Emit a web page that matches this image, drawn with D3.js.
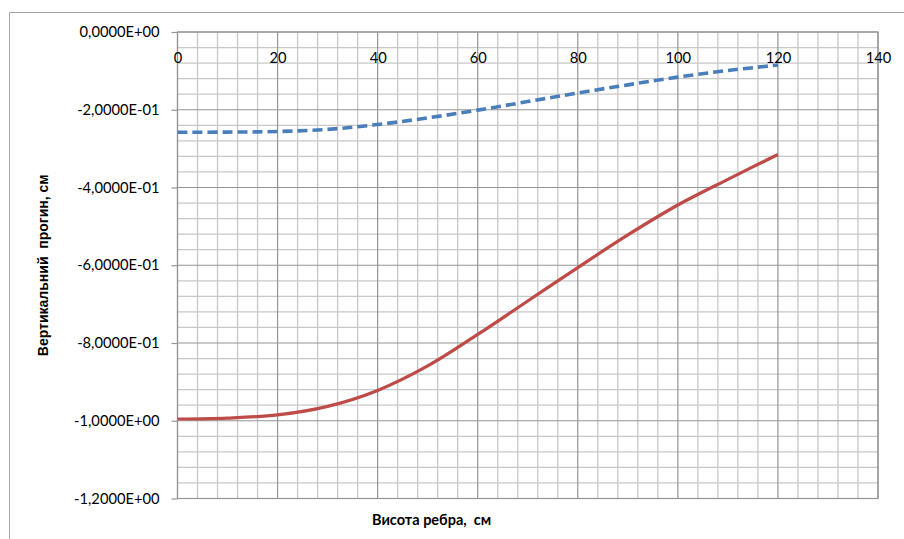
<!DOCTYPE html>
<html><head><meta charset="utf-8">
<script src="https://cdn.jsdelivr.net/npm/d3@7"></script>
<style>
html,body{margin:0;padding:0;background:#fff;}
svg{display:block;font-family:Lato,"Open Sans",sans-serif;}
</style></head>
<body>
<svg id="c" width="904" height="539"></svg>
<script>
const xValues = [0, 10, 20, 30, 40, 50, 60, 70, 80, 90, 100, 110, 120];
const blueSeries = [-0.258, -0.2575, -0.256, -0.2505, -0.238, -0.221, -0.201, -0.179, -0.157, -0.136, -0.116, -0.099, -0.085];
const redSeries = [-0.9955, -0.993, -0.985, -0.963, -0.922, -0.859, -0.778, -0.692, -0.606, -0.522, -0.445, -0.379, -0.315];
const xTicks = [0, 20, 40, 60, 80, 100, 120, 140];
const yTicks = [0, -0.2, -0.4, -0.6, -0.8, -1.0, -1.2];
const xTitle = "Висота ребра,  см";
const yTitle = "Вертикальний  прогин, см";

const svg = d3.select("#c");
const L = 177.5, R = 878, T = 32, B = 498.5;
const x = d3.scaleLinear().domain([0, 140]).range([L, R]);
const y = d3.scaleLinear().domain([0, -1.2]).range([T, B]);

// outer frame
svg.append("path").attr("d", "M9.5,545 V12.5 H910").attr("fill","none").attr("stroke","#a6a6a6").attr("stroke-width",1);

const g = svg.append("g");
// minor grid
const xMinor = d3.range(0, 140.001, 4).filter(v => v % 20 !== 0);
const yMinor = d3.range(0, 1.2001, 0.04).map(v => -v).filter((v,i) => i % 5 !== 0);
g.selectAll(".xm").data(xMinor).join("line")
  .attr("x1", d => x(d)).attr("x2", d => x(d)).attr("y1", T).attr("y2", B)
  .attr("stroke", "#c8c8c8").attr("stroke-width", 1.3);
g.selectAll(".ym").data(yMinor).join("line")
  .attr("y1", d => y(d)).attr("y2", d => y(d)).attr("x1", L).attr("x2", R)
  .attr("stroke", "#c8c8c8").attr("stroke-width", 1.3);
// major grid
g.selectAll(".xM").data(xTicks).join("line")
  .attr("x1", d => x(d)).attr("x2", d => x(d)).attr("y1", T).attr("y2", B)
  .attr("stroke", "#959595").attr("stroke-width", 1.2);
g.selectAll(".yM").data(yTicks).join("line")
  .attr("y1", d => y(d)).attr("y2", d => y(d)).attr("x1", L).attr("x2", R)
  .attr("stroke", "#959595").attr("stroke-width", 1.2);
// plot border
g.append("rect").attr("x", L).attr("y", T).attr("width", R - L).attr("height", B - T)
  .attr("fill", "none").attr("stroke", "#959595").attr("stroke-width", 1.2);

// y axis ticks & labels
const fmt = v => {
  if (v === 0) return "0,0000E+00";
  const e = Math.floor(Math.log10(Math.abs(v)));
  const m = v / Math.pow(10, e);
  const es = (e < 0 ? "-" : "+") + String(Math.abs(e)).padStart(2, "0");
  return m.toFixed(4).replace(".", ",") + "E" + es;
};
const yAxis = d3.axisLeft(y).tickValues(yTicks).tickFormat(fmt).tickSize(6).tickPadding(12);
const ya = svg.append("g").attr("transform", `translate(${L},0)`).call(yAxis);
ya.select(".domain").remove();
ya.selectAll(".tick line").attr("stroke", "#959595").attr("stroke-width", 1.2);
ya.selectAll("text").attr("font-size", 14.7).attr("fill", "#000").attr("font-family", "Lato");

// x axis labels at top
const xAxis = d3.axisBottom(x).tickValues(xTicks).tickFormat(d3.format("d")).tickSize(0).tickPadding(21);
const xa = svg.append("g").attr("transform", `translate(0,${T})`).call(xAxis);
xa.select(".domain").remove();
xa.selectAll("text").attr("font-size", 14.7).attr("fill", "#000").attr("font-family", "Lato");

// lines
const line = d3.line().x((d, i) => x(xValues[i])).y(d => y(d)).curve(d3.curveCatmullRom);
svg.append("path").datum(redSeries).attr("d", line)
  .attr("fill", "none").attr("stroke", "#be4b48").attr("stroke-width", 3.2);
svg.append("path").datum(blueSeries).attr("d", line)
  .attr("fill", "none").attr("stroke", "#4a7ebb").attr("stroke-width", 3.6)
  .attr("stroke-dasharray", "10,5");

// titles
svg.append("text").attr("x", 372).attr("y", 525).attr("text-anchor", "start")
  .attr("font-family", "Lato").attr("font-size", 14.5).attr("font-weight", "bold")
  .style("white-space", "pre").text(xTitle);
svg.append("text").attr("transform", `translate(48,${(T + B) / 2}) rotate(-90)`)
  .attr("text-anchor", "middle").attr("font-family", "Liberation Sans").attr("font-size", 14).attr("font-weight", "bold")
  .style("white-space", "pre").text(yTitle);
</script>
</body></html>
